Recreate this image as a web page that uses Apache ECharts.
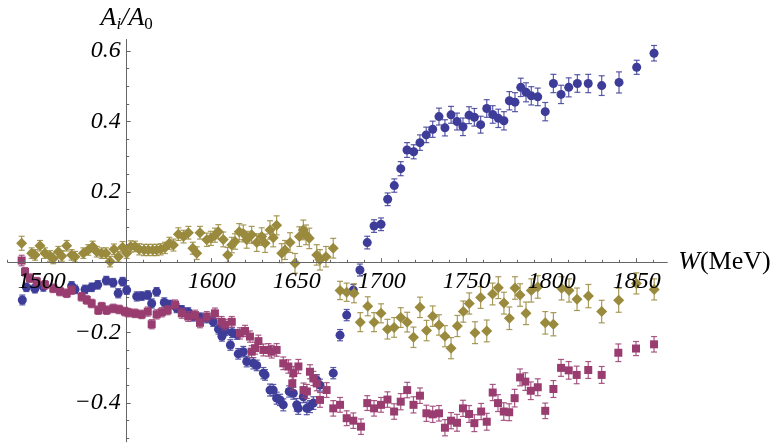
<!DOCTYPE html>
<html><head><meta charset="utf-8">
<script src="https://cdn.jsdelivr.net/npm/echarts@6/dist/echarts.min.js"></script>
<style>html,body{margin:0;padding:0;background:#fff}#c{width:774px;height:443px}</style>
</head><body><div id="c"></div>
<script>
// ---- data: W (MeV), A_i/A_0 values, error half-widths ----
const blueW = [1488.6,1491,1496,1501,1517.6,1519.6,1525.5,1529.4,1533,1538,1542,1545,1547.6,1550,
1555.9,1558.8,1562.4,1564.7,1567.6,1572.1,1575.5,1579.4,1582.4,1586.2,1589.2,1593.1,1597.1,1600.9,
1604,1606,1608,1611,1612,1615,1615.6,
1618.6,1620.6,1624.5,1626.5,1630.4,1631.4,1634.3,1636.2,1638.2,1640.2,1642.1,1645.6,1648,1650,1650.9,1653.9,1655.9,1657.8,1659.8,1661.8,1663.7,
1671.5,1675.5,1679.4,1683.3,1687.2,1691.5,1695.5,1699.6,
1703.5,1707.4,1711.2,1714.9,1718.8,1722.5,1726.2,1730,1733.7,1737.2,1740.8,1744.3,1747.8,1751.4,1754.5,
1758.2,1761.8,1765.3,1768.6,1771.9,1775.1,1778.4,1781.8,1784.9,1788,1791.8,1796.2,1801,1805.5,1810,1815.1,1821.5,1829.4,1839.6,1850,1860.2];
const blueV = [-0.107,-0.071,-0.075,-0.07,-0.067,-0.077,-0.077,-0.071,-0.064,-0.052,-0.058,-0.088,-0.055,-0.079,
-0.097,-0.096,-0.093,-0.117,-0.084,-0.114,-0.12,-0.13,-0.135,-0.142,-0.154,-0.156,-0.159,-0.169,
-0.19,-0.21,-0.195,-0.235,-0.2,-0.205,-0.26,
-0.254,-0.282,-0.287,-0.293,-0.315,-0.32,-0.363,-0.363,-0.386,-0.391,-0.405,-0.367,-0.372,-0.405,-0.415,-0.382,-0.415,-0.41,-0.4,-0.335,-0.349,
-0.315,-0.207,-0.15,-0.079,-0.022,0.056,0.103,0.108,
0.179,0.218,0.266,0.319,0.314,0.34,0.362,0.378,0.414,0.382,0.419,0.4,0.385,0.418,0.412,
0.391,0.437,0.42,0.409,0.402,0.459,0.455,0.497,0.483,0.473,0.47,0.428,0.508,0.477,0.497,0.508,0.508,0.502,0.511,0.554,0.594];
const blueE = [0.014,0.012,0.012,0.012,0.012,0.012,0.012,0.012,0.012,0.012,0.012,0.013,0.012,0.012,
0.013,0.012,0.012,0.013,0.012,0.013,0.012,0.013,0.012,0.013,0.013,0.012,0.013,0.013,
0.014,0.014,0.013,0.015,0.014,0.014,0.015,
0.015,0.015,0.016,0.015,0.016,0.015,0.017,0.016,0.017,0.016,0.017,0.016,0.017,0.018,0.017,0.017,0.018,0.017,0.018,0.016,0.017,
0.016,0.016,0.016,0.016,0.017,0.018,0.018,0.018,
0.018,0.019,0.02,0.021,0.02,0.022,0.022,0.023,0.024,0.023,0.024,0.024,0.025,0.024,0.025,
0.024,0.025,0.025,0.026,0.026,0.026,0.027,0.026,0.027,0.026,0.025,0.026,0.026,0.026,0.027,0.025,0.026,0.028,0.03,0.02,0.022];

const magW = [1488.2,1490.2,1493.1,1497.1,1501.9,1506.8,1510.8,1514.7,1517.6,1523.5,
1526.5,1529.4,1533.3,1535.3,1538.2,1542.1,1545.6,1549,1551,1554.9,
1558.8,1562.4,1564.7,1567.6,1570.6,1574.1,1578.4,1582.4,1586.2,1590.2,
1593.1,1597.1,1601.9,1605.8,1607.8,1611.8,1616.6,1619.6,1622.5,1623.5,
1625.5,1627.5,1630.4,1633.4,1635.3,1638.2,1642.1,1645.1,1647.4,1648,
1651,1654,1656,1657.8,1659.8,1661.8,1663.7,1667.6,1671.5,1675.5,
1679.4,1683.3,1687.8,1691.5,1695.5,1699.6,1703.4,1707.3,1711.2,1715,
1718.7,1722.5,1726.3,1730,1733.7,1737.2,1740.8,1744.3,1747.8,1751.4,
1754.5,1758.5,1761.8,1765.3,1768.4,1771.8,1775,1778.2,1781.4,1784.5,
1787.7,1791.8,1796.2,1801,1805.5,1810,1814.7,1821.5,1829.4,1839.2,
1849.6,1860.2];
const magV = [0.005,-0.027,-0.045,-0.055,-0.064,-0.074,-0.083,-0.088,-0.079,-0.098,
-0.107,-0.117,-0.136,-0.126,-0.136,-0.131,-0.134,-0.14,-0.143,-0.145,
-0.148,-0.14,-0.176,-0.148,-0.142,-0.136,-0.12,-0.145,-0.154,-0.15,
-0.172,-0.154,-0.145,-0.169,-0.177,-0.169,-0.202,-0.195,-0.211,-0.254,
-0.244,-0.224,-0.249,-0.249,-0.254,-0.249,-0.287,-0.296,-0.344,-0.315,
-0.296,-0.363,-0.367,-0.311,-0.33,-0.344,-0.391,-0.363,-0.415,-0.405,
-0.443,-0.45,-0.467,-0.4,-0.415,-0.405,-0.39,-0.424,-0.396,-0.363,
-0.405,-0.379,-0.429,-0.432,-0.429,-0.47,-0.45,-0.456,-0.415,-0.431,
-0.457,-0.424,-0.453,-0.37,-0.4,-0.424,-0.426,-0.386,-0.327,-0.339,
-0.365,-0.355,-0.422,-0.36,-0.3,-0.307,-0.32,-0.306,-0.32,-0.257,
-0.245,-0.233];
const magE = [0.015,0.012,0.012,0.012,0.012,0.012,0.012,0.012,0.012,0.012,
0.012,0.012,0.012,0.012,0.012,0.012,0.012,0.012,0.012,0.012,
0.012,0.013,0.013,0.013,0.013,0.013,0.013,0.014,0.014,0.014,
0.014,0.014,0.015,0.015,0.015,0.015,0.016,0.016,0.016,0.017,
0.017,0.017,0.017,0.018,0.018,0.018,0.018,0.019,0.019,0.019,
0.02,0.02,0.02,0.02,0.02,0.021,0.021,0.021,0.022,0.021,
0.021,0.022,0.022,0.021,0.022,0.021,0.022,0.022,0.023,0.022,
0.023,0.022,0.023,0.023,0.022,0.023,0.023,0.024,0.023,0.024,
0.024,0.023,0.024,0.023,0.024,0.025,0.024,0.025,0.024,0.025,
0.025,0.024,0.022,0.024,0.024,0.025,0.025,0.024,0.024,0.025,
0.02,0.022];

const goldW = [1488.2,1494.1,1496.1,1499,1501.9,1504.9,1506.8,1509.8,1511.8,1514.7,
1517.6,1519.6,1524.5,1527.4,1530,1532.4,1535.3,1537.8,1540.2,1542.5,
1545.1,1547.6,1550,1552.4,1554.9,1557.4,1560.2,1562.7,1565.3,1567.6,
1570,1572.5,1575.1,1577.5,1580.4,1583.4,1586.3,1588.9,1591.2,1593.1,
1597.1,1599.5,1601.9,1603.9,1606.8,1609.4,1611.8,1613.7,1616.2,1618.6,
1620.6,1623.5,1626.5,1629.4,1631.4,1634.3,1636.2,1638.2,1641.2,1643.1,
1646.1,1649,1651.6,1653.9,1655.5,1657.4,1661.8,1663.7,1667.2,1671.5,
1675.5,1679.4,1683.7,1687.4,1691.8,1695.5,1699.6,1703.4,1707.3,1711.2,
1715,1718.7,1722.5,1726.4,1730,1733.7,1737.2,1740.8,1744.5,1748,
1751.5,1754.9,1758.2,1761.8,1765.2,1768.6,1771.9,1775.1,1778.4,1781.4,
1784.9,1788,1791.8,1796.2,1801,1805.8,1810.2,1814.9,1821.6,1829.4,
1839.4,1849.8,1860.3];
const goldV = [0.054,0.026,0.021,0.047,0.026,0.018,0.011,0.03,0.018,0.047,
0.021,0.016,0.026,0.035,0.045,0.03,0.026,0.026,0.002,0.037,
0.016,0.043,0.026,0.045,0.045,0.037,0.035,0.035,0.035,0.035,
0.037,0.041,0.054,0.049,0.08,0.073,0.084,0.04,0.026,0.084,
0.064,0.068,0.077,0.087,0.065,0.021,0.049,0.059,0.087,0.082,
0.064,0.078,0.056,0.073,0.054,0.092,0.07,0.105,0.026,0.035,
0.056,-0.003,0.073,0.092,0.078,0.068,0.021,0.007,0.016,0.04,
-0.08,-0.085,-0.088,-0.17,-0.125,-0.17,-0.145,-0.19,-0.185,-0.157,
-0.17,-0.213,-0.128,-0.194,-0.153,-0.178,-0.21,-0.244,-0.181,-0.14,
-0.117,-0.2,-0.1,-0.195,-0.09,-0.072,-0.116,-0.159,-0.073,-0.093,
-0.145,-0.08,-0.07,-0.172,-0.176,-0.074,-0.08,-0.105,-0.096,-0.14,
-0.108,-0.06,-0.077];
const goldE = [0.02,0.015,0.015,0.015,0.015,0.015,0.015,0.015,0.015,0.015,
0.015,0.015,0.015,0.015,0.015,0.015,0.015,0.015,0.015,0.015,
0.015,0.016,0.015,0.016,0.015,0.016,0.016,0.016,0.016,0.016,
0.016,0.016,0.017,0.017,0.018,0.018,0.018,0.017,0.018,0.018,
0.019,0.02,0.02,0.02,0.021,0.021,0.022,0.022,0.023,0.024,
0.024,0.024,0.025,0.025,0.026,0.026,0.026,0.027,0.027,0.027,
0.028,0.028,0.028,0.028,0.028,0.029,0.029,0.029,0.029,0.028,
0.026,0.026,0.027,0.027,0.027,0.027,0.027,0.028,0.028,0.028,
0.028,0.029,0.029,0.029,0.029,0.029,0.03,0.03,0.03,0.03,
0.03,0.031,0.031,0.031,0.031,0.031,0.031,0.032,0.032,0.032,
0.032,0.033,0.032,0.032,0.033,0.033,0.033,0.032,0.033,0.032,
0.034,0.03,0.03];

// ---- axis ticks / labels ----
const xLabelValues = [1500,1600,1650,1700,1750,1800,1850];
const xMajorTicks = [1500,1550,1600,1650,1700,1750,1800,1850];
const xMinorTicks = [1480,1490,1510,1520,1530,1540,1560,1570,1580,1590,1610,1620,1630,1640,1660,1670,1680,1690,1710,1720,1730,1740,1760,1770,1780,1790,1810,1820,1830,1840,1860];
const yLabelValues = [-0.4,-0.2,0.2,0.4,0.6];
const yMinorTicks = [-0.5,-0.45,-0.35,-0.3,-0.25,-0.15,-0.1,-0.05,0.05,0.1,0.15,0.25,0.3,0.35,0.45,0.5,0.55];

const BLUE = '#3d3d99', MAG = '#993d71', GOLD = '#998a3d';
const SERIF = 'Liberation Serif';
const AXIS_COLOR = '#666';
const X_MIN = 1480, X_MAX = 1868, Y_MIN = -0.51, Y_MAX = 0.633;
const GRID = { left: 7.7, right: 106.7, top: 39.5, bottom: 1.2 };
const W_CROSS = 1550; // W at which the vertical axis is drawn

// axis offsets so that the axes cross at (W_CROSS, 0) as in the original
const gridW = 774 - GRID.left - GRID.right, gridH = 443 - GRID.top - GRID.bottom;
const yAxisOffset = -((W_CROSS - X_MIN) / (X_MAX - X_MIN) * gridW);
const xAxisOffset = -((0 - Y_MIN) / (Y_MAX - Y_MIN) * gridH);

function zip(W, V, E) { return W.map((w, i) => [w, V[i], E[i]]); }

function errSeries(W, V, E, color, z) {
  return {
    type: 'custom', z: z, silent: true,
    data: zip(W, V, E),
    encode: { x: 0, y: 1 },
    renderItem: function (params, api) {
      const x = api.value(0), y = api.value(1), e = api.value(2);
      const p1 = api.coord([x, y + e]), p2 = api.coord([x, y - e]);
      const cw = 3;
      const st = { stroke: color, lineWidth: 1.2, opacity: 0.85 };
      return { type: 'group', children: [
        { type: 'line', shape: { x1: p1[0], y1: p1[1], x2: p2[0], y2: p2[1] }, style: st },
        { type: 'line', shape: { x1: p1[0] - cw, y1: p1[1], x2: p1[0] + cw, y2: p1[1] }, style: st },
        { type: 'line', shape: { x1: p2[0] - cw, y1: p2[1], x2: p2[0] + cw, y2: p2[1] }, style: st }
      ]};
    }
  };
}
function pointSeries(W, V, color, symbol, size, z) {
  return { type: 'scatter', z: z, silent: true, symbol: symbol, symbolSize: size,
    itemStyle: { color: color, opacity: 1 },
    data: W.map((w, i) => [w, V[i]]) };
}

const chart = echarts.init(document.getElementById('c'), null, { renderer: 'canvas' });
chart.setOption({
  animation: false,
  backgroundColor: '#fff',
  grid: Object.assign({ containLabel: false, outerBoundsMode: 'none' }, GRID),
  xAxis: [
    { type: 'value', min: X_MIN, max: X_MAX, position: 'bottom', offset: xAxisOffset, z: 10,
      axisLine: { show: true, onZero: false, lineStyle: { color: AXIS_COLOR, width: 1 } },
      axisTick: { show: true, inside: true, length: 4, customValues: xMajorTicks, lineStyle: { color: AXIS_COLOR } },
      axisLabel: { customValues: xLabelValues, margin: 7, fontFamily: SERIF, fontStyle: 'italic', fontSize: 24, color: '#000',
        formatter: v => String(v) },
      splitLine: { show: false },
      name: '{w|W}{m|(MeV)}', nameLocation: 'end', nameGap: 11,
      nameTextStyle: { rich: {
        w: { fontFamily: SERIF, fontStyle: 'italic', fontSize: 26, color: '#000' },
        m: { fontFamily: SERIF, fontSize: 26, color: '#000' } } } },
    { type: 'value', min: X_MIN, max: X_MAX, position: 'bottom', offset: xAxisOffset, z: 10,
      axisLine: { show: false, onZero: false },
      axisTick: { show: true, inside: true, length: 2.5, customValues: xMinorTicks, lineStyle: { color: AXIS_COLOR } },
      axisLabel: { show: false }, splitLine: { show: false } }
  ],
  yAxis: [
    { type: 'value', min: Y_MIN, max: Y_MAX, position: 'left', offset: yAxisOffset,
      axisLine: { show: true, onZero: false, lineStyle: { color: AXIS_COLOR, width: 1 } },
      axisTick: { show: true, inside: true, length: 4, customValues: yLabelValues, lineStyle: { color: AXIS_COLOR } },
      axisLabel: { customValues: yLabelValues, margin: 6, fontFamily: SERIF, fontStyle: 'italic', fontSize: 24, color: '#000',
        formatter: v => String(v).replace('-', '\u2212') },
      splitLine: { show: false },
      name: '{a|A}{s|i}{a|/A}{z|0}', nameLocation: 'end', nameGap: 6,
      nameTextStyle: { rich: {
        a: { fontFamily: SERIF, fontStyle: 'italic', fontSize: 26, color: '#000', lineHeight: 30, verticalAlign: 'middle' },
        s: { fontFamily: SERIF, fontStyle: 'italic', fontSize: 17, color: '#000', lineHeight: 17, verticalAlign: 'bottom' },
        z: { fontFamily: SERIF, fontSize: 17, color: '#000', lineHeight: 17, verticalAlign: 'bottom' } } } },
    { type: 'value', min: Y_MIN, max: Y_MAX, position: 'left', offset: yAxisOffset,
      axisLine: { show: false, onZero: false },
      axisTick: { show: true, inside: true, length: 2.5, customValues: yMinorTicks, lineStyle: { color: AXIS_COLOR } },
      axisLabel: { show: false }, splitLine: { show: false } }
  ],
  series: [
    errSeries(blueW, blueV, blueE, BLUE, 2),
    pointSeries(blueW, blueV, BLUE, 'circle', 9, 3),
    errSeries(magW, magV, magE, MAG, 4),
    pointSeries(magW, magV, MAG, 'rect', 8, 5),
    errSeries(goldW, goldV, goldE, GOLD, 6),
    pointSeries(goldW, goldV, GOLD, 'diamond', 11, 7)
  ]
});
</script>
</body></html>
